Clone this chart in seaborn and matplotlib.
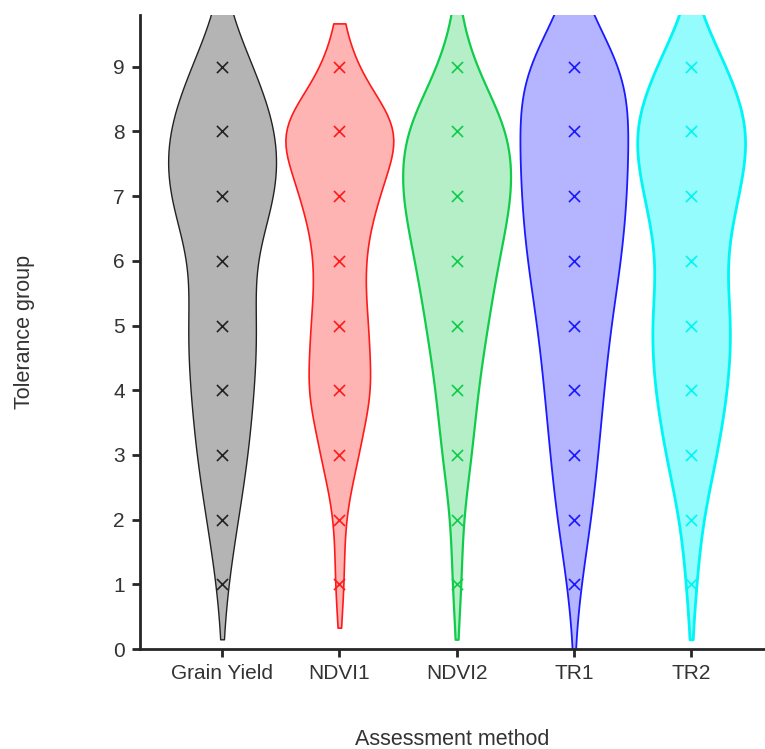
import numpy as np
import pandas as pd
import matplotlib
matplotlib.use('Agg')
import matplotlib.pyplot as plt
import seaborn as sns

# Datos: número de genotipos por grupo de tolerancia (1-9) y método
methods = ['Grain Yield', 'NDVI1', 'NDVI2', 'TR1', 'TR2']
groups = [1, 2, 3, 4, 5, 6, 7, 8, 9]
grain_yield = [1, 3, 5, 6, 7, 5, 11, 11, 6]
ndvi1 = [1, 1, 4, 7, 6, 5, 8, 14, 3]
ndvi2 = [1, 1, 3, 4, 6, 8, 11, 11, 3]
tr1 = [1, 3, 4, 5, 6, 8, 9, 9, 10]
tr2 = [1, 2, 5, 7, 8, 6, 9, 12, 7]
counts = [grain_yield, ndvi1, ndvi2, tr1, tr2]

edge_colors = ['#222222', '#ff1a1a', '#10cc4a', '#1a1aff', '#00f5f5']
fill_colors = ['#b4b4b4', '#ffb4b4', '#b4efc8', '#b4b4ff', '#94fcfc']
line_widths = [1.0, 1.2, 1.6, 1.3, 2.0]
# ancho de banda del kernel y extensión de la cola (en unidades de grupo)
bandwidths = [0.75, 0.6, 0.7, 0.8, 0.7]
tails = [0.85, 0.67, 0.85, 1.0, 0.85]

rows = []
for m, c in zip(methods, counts):
    for g, n in zip(groups, c):
        rows += [(m, g)] * n
df = pd.DataFrame(rows, columns=['method', 'group'])
marks = pd.DataFrame([(m, g) for m in methods for g in groups], columns=['method', 'group'])

sns.set_style('ticks')
plt.rcParams['font.family'] = ['Liberation Sans', 'DejaVu Sans']

fig = plt.figure(figsize=(7.65, 7.49), dpi=100)
ax = fig.add_axes([0.183, 0.1335, 0.817, 0.8465])

for i, m in enumerate(methods):
    sub = df[df['method'] == m]
    sd = sub['group'].std()
    sns.violinplot(data=sub, x='method', y='group', order=methods, color=fill_colors[i],
                   linecolor=edge_colors[i], linewidth=line_widths[i], inner=None,
                   density_norm='width', width=0.92, saturation=1,
                   bw_method=bandwidths[i] / sd, cut=tails[i] / bandwidths[i], ax=ax)
    # cruces en cada grupo de tolerancia
    sns.stripplot(data=marks[marks['method'] == m], x='method', y='group', order=methods,
                  jitter=False, marker='x', size=8, linewidth=1.2, color=edge_colors[i], ax=ax)

ax.set_xlim(-0.7, 4.63)
ax.set_ylim(0, 9.8)
ax.set_yticks(range(0, 10))
sns.despine(ax=ax)
for s in ['left', 'bottom']:
    ax.spines[s].set_linewidth(2)
ax.tick_params(axis='both', width=2, length=6, labelsize=15, labelcolor='#333333', pad=5)
ax.set_xlabel('Assessment method', fontsize=15.5, color='#333333', labelpad=33)
ax.set_ylabel('Tolerance group', fontsize=15.5, color='#333333', labelpad=56)

fig.savefig('out.png', dpi=100)
